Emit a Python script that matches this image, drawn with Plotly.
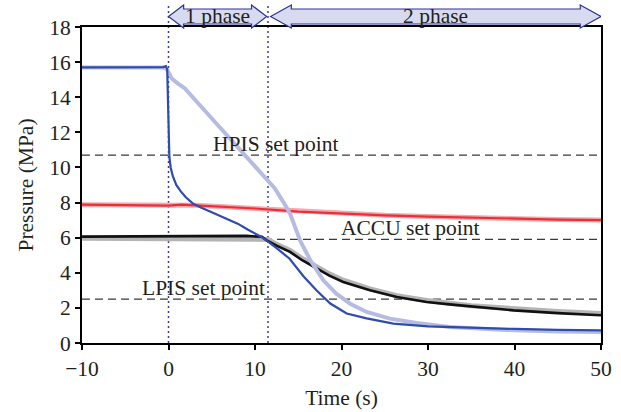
import plotly.graph_objects as go

# ---- series (time in s, pressure in MPa) ----
blue_t = [-10, -3, -0.6, -0.3, -0.15, 0.1, 0.25, 0.5, 0.9, 1.4, 2.0, 2.8, 3.8, 5.0, 6.5, 8.0,
          9.2, 10.9, 12.5, 14.0, 15.6, 17.1, 18.7, 20.6, 22.9, 26.0, 30.0, 35.0, 40.0, 45.0, 50.0]
blue_p = [15.7, 15.7, 15.72, 15.77, 15.6, 10.6, 10.0, 9.5, 9.0, 8.65, 8.3, 7.95, 7.7, 7.45, 7.12, 6.8,
          6.45, 6.0, 5.4, 4.8, 3.8, 3.0, 2.25, 1.68, 1.4, 1.1, 0.95, 0.86, 0.8, 0.75, 0.72]

lavender_t = [-10, -3, -0.6, -0.2, 0.4, 1.1, 1.9, 3.45, 5.5, 7.3, 9.3, 11.15, 12.3, 13.5, 14.05,
              15.2, 16.4, 17.9, 19.4, 21.0, 22.9, 25.6, 28.7, 32.5, 36.0, 40.0, 45.0, 50.0]
lavender_p = [15.7, 15.7, 15.7, 15.6, 15.05, 14.78, 14.5, 13.64, 12.5, 11.55, 10.45, 9.37, 8.8, 7.85, 7.37,
              5.85, 4.71, 3.57, 2.81, 2.24, 1.77, 1.39, 1.14, 0.91, 0.8, 0.72, 0.66, 0.63]

red_t = [-10, -5, 0, 1.5, 3, 6, 10, 15, 20, 25, 30, 35, 40, 45, 50]
red_p = [7.88, 7.85, 7.83, 7.88, 7.84, 7.77, 7.66, 7.48, 7.36, 7.27, 7.2, 7.13, 7.08, 7.03, 7.0]

black_t = [-10, -5, 0, 5, 9, 10.8, 11.35, 12.5, 14.05, 15.5, 17.1, 18.6, 20.2, 21.8, 23.3,
           26.4, 29.85, 32.5, 36.0, 39.9, 45.0, 50.0]
black_p = [6.06, 6.07, 6.08, 6.09, 6.1, 6.05, 5.85, 5.55, 5.19, 4.7, 4.24, 3.84, 3.48, 3.22, 3.0,
           2.62, 2.34, 2.2, 2.02, 1.86, 1.7, 1.58]

grey_t = [-10, 0, 10, 11.0, 11.5, 12.5, 14.05, 15.5, 17.1, 18.6, 20.2, 23.3, 26.4, 29.85,
          35.0, 40.0, 45.0, 50.0]
grey_p = [5.96, 5.96, 5.97, 5.97, 5.9, 5.62, 5.27, 4.8, 4.34, 3.94, 3.58, 3.08, 2.7, 2.42,
          2.12, 1.94, 1.8, 1.68]

# ---- set points: label, pressure, label centre time ----
setpoint_names = ["HPIS set point", "ACCU set point", "LPIS set point"]
setpoint_values = [10.7, 5.9, 2.5]
setpoint_label_t = [12.4, 28.0, 4.1]

# ---- phases ----
phase_names = ["1 phase", "2 phase"]
phase_start = [0.0, 11.8]
phase_end = [11.35, 50.0]
phase_marks = [0.0, 11.5]

x_ticks = [-10, 0, 10, 20, 30, 40, 50]
y_ticks = [0, 2, 4, 6, 8, 10, 12, 14, 16, 18]

FONT = "Liberation Serif"
FS = 21.5
TXT = "#231f20"

fig = go.Figure()

# set-point dashed lines
for v in setpoint_values:
    fig.add_trace(go.Scatter(x=[-10, 49.7], y=[v, v], mode="lines",
                             line=dict(color="#3a3a3a", width=1.3, dash="8px,5px"),
                             hoverinfo="skip"))

# pressure curves
fig.add_trace(go.Scatter(x=red_t, y=red_p, mode="lines",
                         line=dict(color="#f6a8ab", width=5), hoverinfo="skip"))
fig.add_trace(go.Scatter(x=red_t, y=red_p, mode="lines",
                         line=dict(color="#e8303a", width=2.2), hoverinfo="skip"))
fig.add_trace(go.Scatter(x=grey_t, y=grey_p, mode="lines",
                         line=dict(color="#b4b4b4", width=5), hoverinfo="skip"))
fig.add_trace(go.Scatter(x=black_t, y=black_p, mode="lines",
                         line=dict(color="#111111", width=2.6), hoverinfo="skip"))
fig.add_trace(go.Scatter(x=lavender_t, y=lavender_p, mode="lines",
                         line=dict(color="#b6bce1", width=4), hoverinfo="skip"))
fig.add_trace(go.Scatter(x=blue_t, y=blue_p, mode="lines",
                         line=dict(color="#2f4bae", width=2.2), hoverinfo="skip"))

shapes = []
annotations = []

# dotted phase boundaries, running up through the arrow band
for xm in phase_marks:
    shapes.append(dict(type="line", xref="x", yref="paper", x0=xm, x1=xm, y0=0, y1=1.075,
                       line=dict(color="#3c3c96", width=1.5, dash="2px,3px"), layer="below"))

# double-headed phase arrows
y_top, y_bot, s_top, s_bot = 1.0696, 0.9968, 1.057, 1.0095
y_mid = (y_top + y_bot) / 2
for name, a, b in zip(phase_names, phase_start, phase_end):
    head = 1.75 if (b - a) < 20 else 2.4
    path = (f"M {a},{y_mid} L {a + head},{y_top} L {a + head},{s_top} L {b - head},{s_top} "
            f"L {b - head},{y_top} L {b},{y_mid} L {b - head},{y_bot} L {b - head},{s_bot} "
            f"L {a + head},{s_bot} L {a + head},{y_bot} Z")
    shapes.append(dict(type="path", xref="x", yref="paper", path=path,
                       fillcolor="#d8dbf0", line=dict(color="#2e3592", width=1.2), layer="above"))
    annotations.append(dict(x=(a + b) / 2, y=y_mid, xref="x", yref="paper", text=name,
                            showarrow=False, font=dict(family=FONT, size=FS, color=TXT),
                            xanchor="center", yanchor="middle", yshift=1))

for name, v, xt in zip(setpoint_names, setpoint_values, setpoint_label_t):
    annotations.append(dict(x=xt, y=v, xref="x", yref="y", text=name, showarrow=False,
                            font=dict(family=FONT, size=FS, color=TXT),
                            xanchor="center", yanchor="bottom", yshift=-3))

fig.update_layout(
    width=621, height=412,
    margin=dict(l=82, r=20, t=27, b=69),
    paper_bgcolor="white", plot_bgcolor="white",
    showlegend=False,
    font=dict(family=FONT, size=FS, color=TXT),
    shapes=shapes, annotations=annotations,
)
fig.update_xaxes(range=[-10, 50], tickvals=x_ticks, showgrid=False, zeroline=False,
                 showline=True, linecolor="black", linewidth=2, mirror=True,
                 ticks="outside", ticklen=5, tickwidth=2, tickcolor="black",
                 automargin=False,
                 tickfont=dict(family=FONT, size=FS, color=TXT),
                 title=dict(text="Time (s)", standoff=10, font=dict(family=FONT, size=FS, color=TXT)))
fig.update_yaxes(range=[0, 18], tickvals=y_ticks, showgrid=False, zeroline=False,
                 showline=True, linecolor="black", linewidth=2, mirror=True,
                 ticks="outside", ticklen=5, tickwidth=2, tickcolor="black",
                 automargin=False,
                 tickfont=dict(family=FONT, size=FS, color=TXT),
                 title=dict(text="Pressure (MPa)", standoff=10, font=dict(family=FONT, size=FS, color=TXT)))

fig.write_html("out.html")
